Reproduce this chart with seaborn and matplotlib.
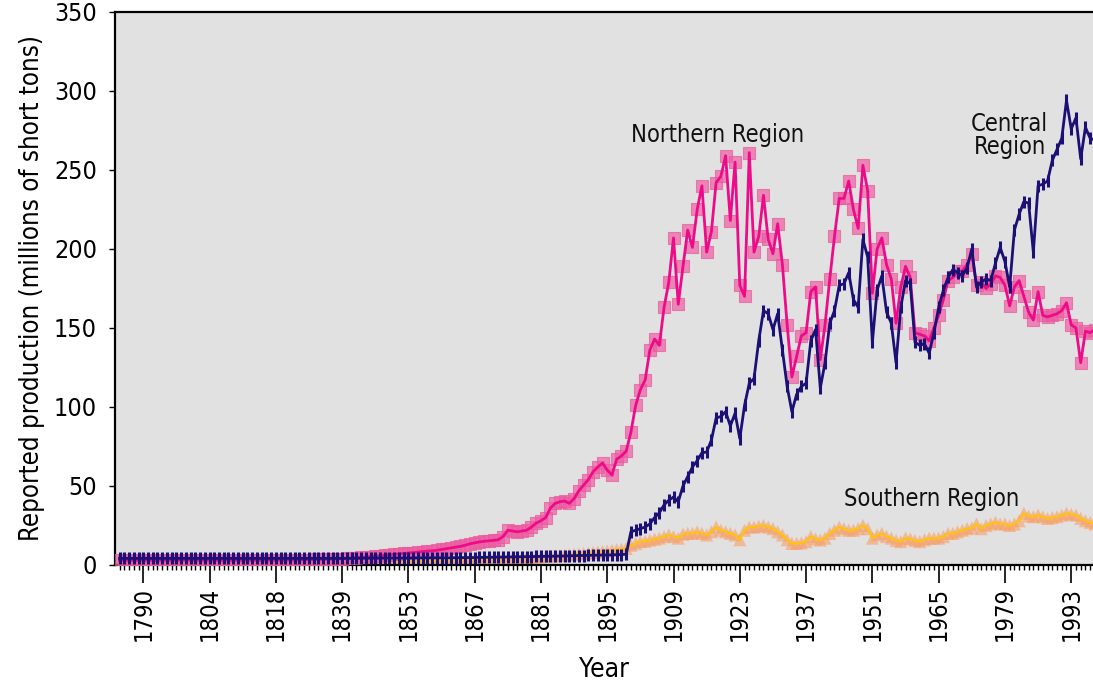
import numpy as np
import pandas as pd
import matplotlib
matplotlib.use("Agg")
import matplotlib.pyplot as plt
import seaborn as sns
from matplotlib.ticker import FixedLocator

# Years shown on the category axis (1819-1825 are absent from the record)
years = list(range(1785, 1819)) + list(range(1826, 1999))

# Northern Region (millions of short tons)
northern = [
    3.0, 3.0, 3.0, 3.0, 3.0, 3.0, 3.0, 3.0, 3.0, 3.0,
    3.0, 3.0, 3.0, 3.0, 3.0, 3.0, 3.0, 3.0, 3.0, 3.0,
    3.0, 3.0, 3.0, 3.0, 3.0, 3.0, 3.0, 3.0, 3.0, 3.0,
    3.0, 3.0, 3.0, 3.0,
    3.1, 3.1, 3.2, 3.2, 3.3, 3.3, 3.4, 3.5, 3.5, 3.6, 3.7, 3.8, 3.9,
    4.0, 4.2, 4.4, 4.6, 4.8, 5.0, 5.3, 5.6, 5.9, 6.2,
    6.5, 6.8, 7.0, 7.3, 7.6, 7.9, 8.2, 8.5, 8.8, 9.0,
    9.3, 9.8, 10.3, 10.8, 11.3, 11.8, 12.5, 13.4, 14.0, 14.6,
    15.0, 15.3, 15.6, 16.0, 18.0, 22.0, 21.5, 21.0, 21.5, 22.0,
    24.0, 26.5, 28.0, 30.0, 36.0, 39.0, 40.0, 40.5, 39.0, 42.0,
    47.0, 50.5, 54.0, 59.0, 62.0, 64.5, 60.0, 57.0, 67.0, 69.0,
    72.0, 84.0, 101.0, 111.0, 117.0, 136.0, 143.0, 139.0, 163.0, 179.0,
    207.0, 165.0, 189.0, 212.0, 201.0, 225.0, 240.0, 198.0, 211.0, 242.0,
    246.0, 259.0, 218.0, 255.0, 177.0, 170.0, 261.0, 198.0, 208.0, 234.0,
    206.0, 197.0, 216.0, 190.0, 152.0, 119.0, 132.0, 145.0, 147.0, 173.0,
    176.0, 130.0, 152.0, 181.0, 208.0, 232.0, 232.0, 243.0, 225.0, 213.0,
    253.0, 237.0, 172.0, 200.0, 207.0, 190.0, 181.0, 153.0, 176.0, 189.0,
    182.0, 147.0, 146.0, 145.0, 142.0, 150.0, 158.0, 168.0, 180.0, 182.0,
    186.0, 186.0, 190.0, 197.0, 177.0, 179.0, 175.0, 178.0, 183.0, 182.0,
    177.0, 164.0, 176.0, 180.0, 170.0, 160.0, 155.0, 173.0, 158.0, 157.0,
    158.0, 159.0, 161.0, 166.0, 152.0, 150.0, 128.0, 148.0, 147.0, 149.0,
]

# Central Region
central = [
    4.2, 4.2, 4.2, 4.2, 4.2, 4.2, 4.2, 4.2, 4.2, 4.2,
    4.2, 4.2, 4.2, 4.2, 4.2, 4.2, 4.2, 4.2, 4.2, 4.2,
    4.2, 4.2, 4.2, 4.2, 4.2, 4.2, 4.2, 4.2, 4.2, 4.2,
    4.2, 4.2, 4.2, 4.2,
    4.2, 4.2, 4.2, 4.2, 4.2, 4.2, 4.2, 4.2, 4.2, 4.2, 4.2, 4.2, 4.2,
    4.2, 4.2, 4.2, 4.2, 4.3, 4.3, 4.3, 4.3, 4.3, 4.4,
    4.4, 4.4, 4.4, 4.4, 4.4, 4.5, 4.5, 4.5, 4.5, 4.5,
    4.5, 4.5, 4.5, 4.6, 4.6, 4.6, 4.7, 4.7, 4.7, 4.8,
    4.8, 4.9, 4.9, 5.0, 5.0, 5.1, 5.1, 5.2, 5.2, 5.3,
    5.3, 5.4, 5.4, 5.5, 5.5, 5.6, 5.6, 5.7, 5.8, 5.9,
    6.0, 6.0, 6.1, 6.2, 6.2, 6.3, 6.3, 6.4, 6.5, 6.6,
    6.8, 21.0, 22.0, 23.0, 24.0, 26.0, 30.0, 33.0, 38.0, 41.0,
    43.0, 40.0, 50.0, 56.0, 62.0, 66.0, 71.0, 71.5, 79.0, 93.0,
    94.0, 97.0, 88.0, 96.0, 80.0, 101.0, 115.0, 118.0, 142.0, 161.0,
    159.0, 149.0, 159.0, 136.0, 113.0, 97.0, 108.0, 113.0, 115.0, 142.0,
    149.0, 112.0, 128.0, 153.0, 161.0, 177.0, 178.0, 185.0, 168.0, 163.0,
    206.0, 195.0, 141.0, 174.0, 183.0, 160.0, 153.0, 128.0, 163.0, 180.0,
    178.0, 141.0, 139.0, 140.0, 134.0, 147.0, 163.0, 174.0, 182.0, 187.0,
    185.0, 183.0, 188.0, 200.0, 176.0, 179.0, 181.0, 180.0, 191.0, 201.0,
    192.0, 176.0, 212.0, 222.0, 230.0, 229.0, 198.0, 240.0, 241.0, 243.0,
    256.0, 263.0, 270.0, 294.0, 276.0, 283.0, 257.0, 277.0, 270.0, 269.0,
]

# Southern Region
southern = [
    0.8, 0.8, 0.8, 0.8, 0.8, 0.8, 0.8, 0.8, 0.8, 0.8,
    0.8, 0.8, 0.8, 0.8, 0.8, 0.8, 0.8, 0.8, 0.8, 0.8,
    0.8, 0.8, 0.8, 0.8, 0.8, 0.8, 0.8, 0.8, 0.8, 0.8,
    0.8, 0.8, 0.8, 0.8,
    0.9, 0.9, 1.0, 1.0, 1.0, 1.1, 1.1, 1.2, 1.2, 1.3, 1.3, 1.4, 1.4,
    1.5, 1.5, 1.6, 1.6, 1.7, 1.7, 1.8, 1.9, 1.9, 2.0,
    2.1, 2.1, 2.2, 2.3, 2.3, 2.4, 2.5, 2.6, 2.6, 2.7,
    2.8, 2.9, 3.0, 3.0, 3.1, 3.2, 3.3, 3.4, 3.5, 3.6,
    3.7, 3.8, 3.9, 4.0, 4.1, 4.2, 4.3, 4.4, 4.5, 4.7,
    4.9, 5.0, 5.2, 5.4, 5.6, 5.8, 6.0, 6.2, 6.5, 6.8,
    7.0, 7.3, 7.6, 7.9, 8.2, 8.5, 8.8, 9.2, 9.6, 10.0,
    10.5, 12.5, 13.5, 14.8, 15.0, 15.8, 16.3, 17.0, 18.0, 19.0,
    18.0, 17.0, 19.5, 20.0, 20.0, 21.0, 20.0, 19.0, 21.0, 24.0,
    22.0, 21.0, 20.0, 19.0, 16.0, 22.0, 24.0, 24.0, 24.5, 25.0,
    24.0, 23.0, 21.0, 19.0, 16.0, 13.7, 13.7, 14.0, 14.8, 18.0,
    16.5, 15.8, 17.0, 20.0, 22.0, 24.0, 23.0, 22.0, 22.0, 23.0,
    25.0, 23.0, 17.0, 19.0, 20.0, 18.0, 17.0, 15.5, 14.8, 17.0,
    16.5, 15.5, 14.8, 16.0, 17.0, 17.0, 17.0, 18.0, 20.0, 20.0,
    21.0, 22.0, 23.0, 23.5, 26.0, 23.0, 25.0, 26.0, 27.0, 26.0,
    26.0, 25.0, 26.0, 28.0, 32.7, 31.0, 30.6, 31.6, 30.5, 29.5,
    30.0, 30.6, 31.5, 32.7, 32.0, 31.6, 29.5, 28.0, 27.0, 26.0,
]

tick_years = [1790, 1804, 1818, 1839, 1853, 1867, 1881, 1895,
              1909, 1923, 1937, 1951, 1965, 1979, 1993]
y_ticks = [0, 50, 100, 150, 200, 250, 300, 350]

df = pd.DataFrame({"year": years, "Northern": northern,
                   "Central": central, "Southern": southern})
df["pos"] = np.arange(len(df))

plt.rcParams['font.family'] = ['DejaVu Sans']
plt.rcParams['font.stretch'] = 'condensed'

fig = plt.figure(figsize=(10.93, 6.84), dpi=100)
ax = fig.add_axes([0.1052, 0.174, 0.8948, 0.8085])
ax.set_facecolor('#e1e1e1')

# Southern: pale orange triangles under a yellow line
sns.scatterplot(data=df, x="pos", y="Southern", marker='^', s=90,
                color='#f8a068', alpha=0.6, edgecolor='none', ax=ax, zorder=2)
sns.lineplot(data=df, x="pos", y="Southern", color='#ffc20e', lw=1.6,
             ax=ax, zorder=3)

# Northern: pink squares under a magenta line
sns.scatterplot(data=df, x="pos", y="Northern", marker='s', s=65,
                color='#ee5ea3', alpha=0.7, edgecolor='#e85a9c',
                linewidth=0.8, ax=ax, zorder=4)
sns.lineplot(data=df, x="pos", y="Northern", color='#ec0c8a', lw=2.0,
             ax=ax, zorder=5)

# Central: navy line with small vertical ticks
sns.lineplot(data=df, x="pos", y="Central", color='#1b1075', lw=2.0,
             marker='|', markersize=8, markeredgewidth=2.2,
             markeredgecolor='#1b1075', ax=ax, zorder=6)

ax.set_xlim(-0.97, 205.6)
ax.set_ylim(0, 350)

year_pos = {y: i for i, y in enumerate(years)}
ax.xaxis.set_major_locator(FixedLocator([year_pos[y] for y in tick_years]))
ax.set_xticklabels([str(y) for y in tick_years], rotation=90, fontsize=17)
ax.xaxis.set_minor_locator(FixedLocator(df["pos"].tolist()))
ax.set_yticks(y_ticks)
ax.set_yticklabels([str(v) for v in y_ticks], fontsize=18)

ax.tick_params(axis='x', which='major', length=13, width=1.2, pad=3, color='black')
ax.tick_params(axis='x', which='minor', length=3.5, width=1.0, color='black')
ax.tick_params(axis='y', which='major', length=4, width=1.0, pad=9, color='black')

for side in ['left', 'top', 'bottom']:
    ax.spines[side].set_linewidth(1.6)
    ax.spines[side].set_color('black')
ax.spines['right'].set_visible(False)

ax.set_xlabel('Year', fontsize=19, labelpad=11)
ax.set_ylabel('Reported production (millions of short tons)', fontsize=18.5, labelpad=6)

ax.text(year_pos[1911] + 7.4, 272, 'Northern Region', fontsize=17,
        ha='center', va='center', color='#111111')
ax.text(year_pos[1911] + 69, 272, 'Central\nRegion', fontsize=17,
        ha='center', va='center', color='#111111', linespacing=0.95)
ax.text(year_pos[1911] + 52.6, 42, 'Southern Region', fontsize=17,
        ha='center', va='center', color='#111111')

plt.savefig('out.png', dpi=100)
